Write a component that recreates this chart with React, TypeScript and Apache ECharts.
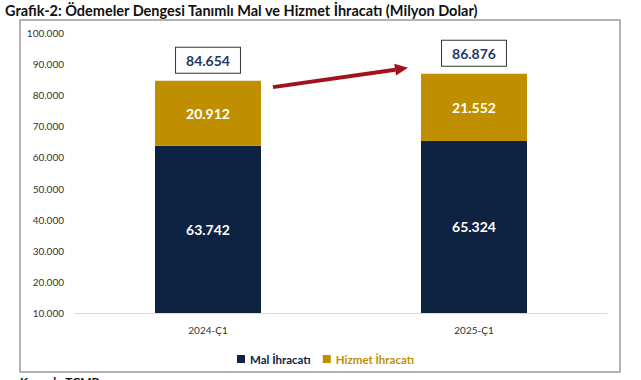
import React, { useEffect, useRef } from "react";
import * as echarts from "echarts";

const categories = ["2024-Ç1", "2025-Ç1"];
const malValues = [63742, 65324];
const hizmetValues = [20912, 21552];
const totals = [84654, 86876];
const seriesNames = ["Mal İhracatı", "Hizmet İhracatı"];
const titleText = "Grafik-2: Ödemeler Dengesi Tanımlı Mal ve Hizmet İhracatı (Milyon Dolar)";
const sourceText = "Kaynak: TCMB";

const fmt = (v: number) => {
  const s = Math.round(v).toString();
  return s.replace(/\B(?=(\d{3})+(?!\d))/g, ".");
};

const FONT = "Lato, 'Open Sans', sans-serif";
const NAVY = "#0E2341";
const GOLD = "#BF8F00";

export default function App() {
  const ref = useRef<HTMLDivElement>(null);
  useEffect(() => {
    if (!ref.current) return;
    const chart = echarts.init(ref.current, null, { renderer: "svg" });
    chart.setOption({
      animation: false,
      textStyle: { fontFamily: FONT },
      grid: { left: 75, right: 34, top: 33, bottom: 67 },
      legend: {
        left: 232,
        top: 348,
        itemWidth: 8,
        itemHeight: 8,
        itemGap: 12,
        icon: "rect",
        data: [
          { name: seriesNames[0], textStyle: { color: NAVY } },
          { name: seriesNames[1], textStyle: { color: GOLD } },
        ],
        textStyle: { fontFamily: FONT, fontWeight: "bold", fontSize: 11.5 },
      },
      xAxis: {
        type: "category",
        data: categories,
        axisLine: { lineStyle: { color: "#D9D9D9" } },
        axisTick: { show: false },
        axisLabel: { color: "#333", fontSize: 10, margin: 12, fontFamily: FONT },
      },
      yAxis: {
        type: "value",
        min: 10000,
        max: 100000,
        interval: 10000,
        splitLine: { show: false },
        axisLine: { show: false },
        axisTick: { show: false },
        axisLabel: { color: "#333", fontSize: 10, margin: 11, fontFamily: FONT, formatter: (v: number) => fmt(v) },
      },
      series: [
        {
          name: seriesNames[0],
          type: "bar",
          stack: "t",
          barWidth: 106,
          data: malValues,
          itemStyle: { color: NAVY },
          label: { show: true, position: "inside", color: "#fff", fontWeight: "bold", fontSize: 14, fontFamily: FONT, formatter: (p: any) => fmt(p.value) },
        },
        {
          name: seriesNames[1],
          type: "bar",
          stack: "t",
          barWidth: 106,
          data: hizmetValues,
          itemStyle: { color: GOLD },
          label: { show: true, position: "inside", color: "#fff", fontWeight: "bold", fontSize: 14, fontFamily: FONT, formatter: (p: any) => fmt(p.value) },
        },
        {
          name: "total",
          type: "bar",
          stack: "t",
          barWidth: 106,
          data: categories.map(() => 0),
          itemStyle: { color: "transparent" },
          label: {
            show: true,
            position: "top",
            distance: 8,
            color: "#1F3864",
            fontWeight: "bold",
            fontSize: 14,
            fontFamily: FONT,
            backgroundColor: "#fff",
            borderColor: "#333",
            borderWidth: 1,
            padding: [6, 10, 5, 10],
            formatter: (p: any) => fmt(totals[p.dataIndex]),
          },
          tooltip: { show: false },
        },
      ],
    });

    const p0 = chart.convertToPixel({ xAxisIndex: 0, yAxisIndex: 0 }, [0, 82600]) as number[];
    const p1 = chart.convertToPixel({ xAxisIndex: 0, yAxisIndex: 0 }, [1, 88800]) as number[];
    const x0 = p0[0] + 65;
    const y0 = p0[1];
    const x1 = p1[0] - 66;
    const y1 = p1[1];
    const ang = Math.atan2(y1 - y0, x1 - x0);
    const headLen = 13;
    const headW = 6;
    const bx = x1 - headLen * Math.cos(ang);
    const by = y1 - headLen * Math.sin(ang);
    const nx = -Math.sin(ang);
    const ny = Math.cos(ang);
    const RED = "#A3121C";

    chart.setOption({
      graphic: [
        {
          type: "rect",
          shape: { x: 20, y: 20, width: 600, height: 352 },
          style: { fill: "none", stroke: "#9A9A9A", lineWidth: 1.5 },
          silent: true,
        },
        {
          type: "text",
          x: 5,
          y: 3,
          style: { text: titleText, fill: "#111", font: `bold 14.5px ${FONT}` },
        },
        {
          type: "text",
          x: 20,
          y: 375,
          style: { text: sourceText, fill: "#111", font: `bold 12px ${FONT}` },
        },
        {
          type: "line",
          shape: { x1: x0, y1: y0, x2: bx, y2: by },
          style: { stroke: RED, lineWidth: 4 },
        },
        {
          type: "polygon",
          shape: {
            points: [
              [x1, y1],
              [bx + nx * headW, by + ny * headW],
              [bx - nx * headW, by - ny * headW],
            ],
          },
          style: { fill: RED },
        },
      ],
    });

    return () => chart.dispose();
  }, []);
  return <div ref={ref} style={{ position: "fixed", left: 0, top: 0, width: 641, height: 380, background: "#fff" }} />;
}
